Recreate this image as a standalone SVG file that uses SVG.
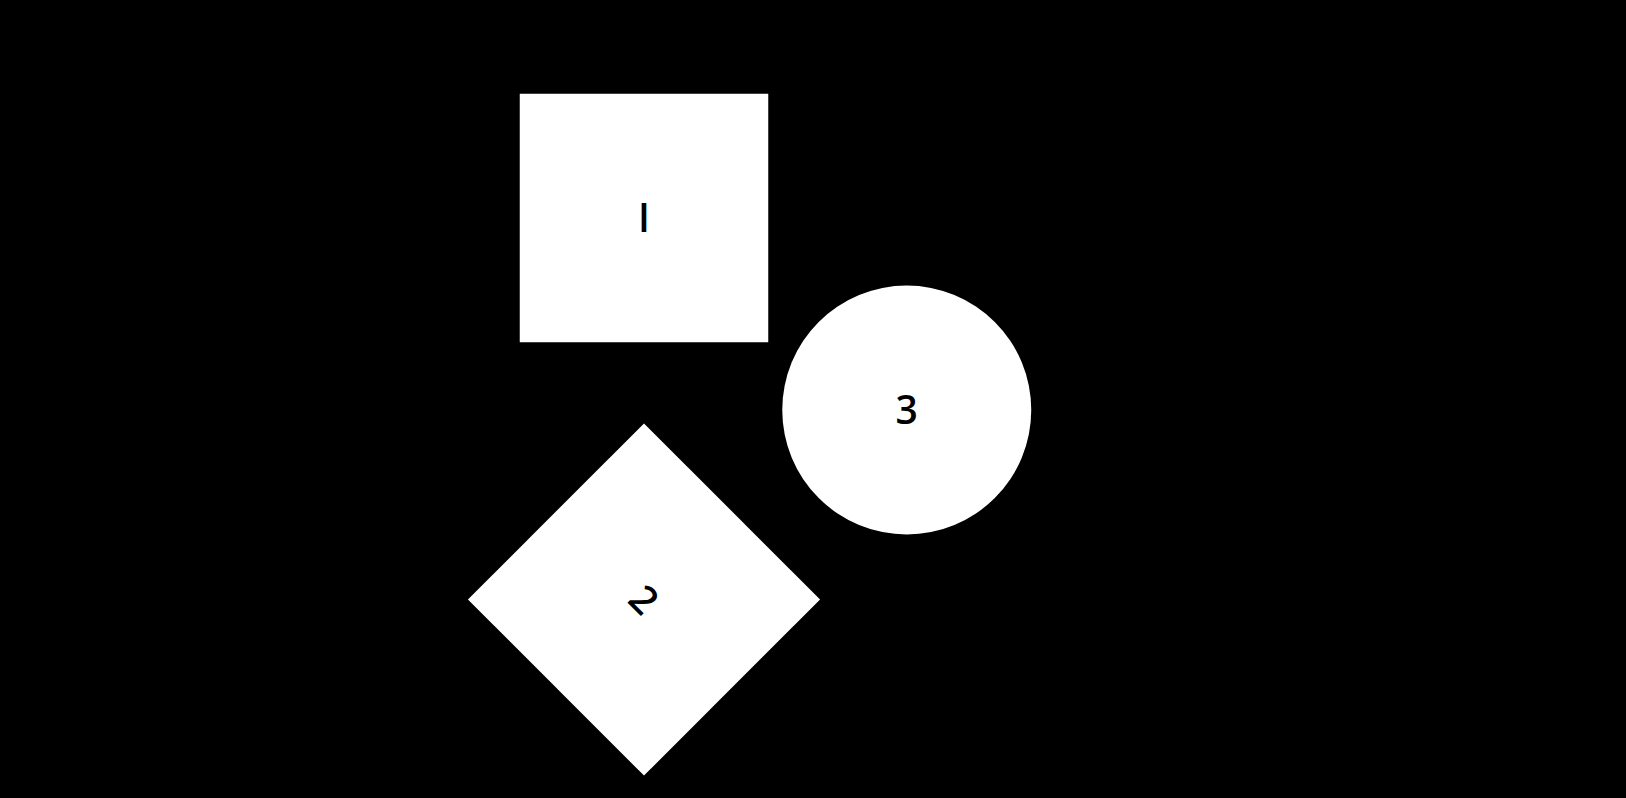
<svg xmlns="http://www.w3.org/2000/svg" width="1626" height="798" viewBox="0 0 1626 798">
  <style>
    .shape { fill: #ffffff; stroke: none; }
    .label { font-family: "Open Sans", "DejaVu Sans", sans-serif; font-size: 39px; font-weight: 600; fill: #000000; text-anchor: middle; }
  </style>
  <rect x="0" y="0" width="1626" height="798" fill="#000000"/>
  <g id="connectors"></g>
  <g id="node-1">
    <rect class="shape" x="519.75" y="93.75" width="248.5" height="248.5"/>
    <text class="label" x="644" y="232">I</text>
  </g>
  <g id="node-2" transform="rotate(45 644 599.5)">
    <rect class="shape" x="519.5" y="475" width="249" height="249"/>
    <text class="label" x="644" y="613.5">2</text>
  </g>
  <g id="node-3">
    <circle class="shape" cx="906.75" cy="410" r="124.5"/>
    <text class="label" x="906.75" y="424">3</text>
  </g>
</svg>
